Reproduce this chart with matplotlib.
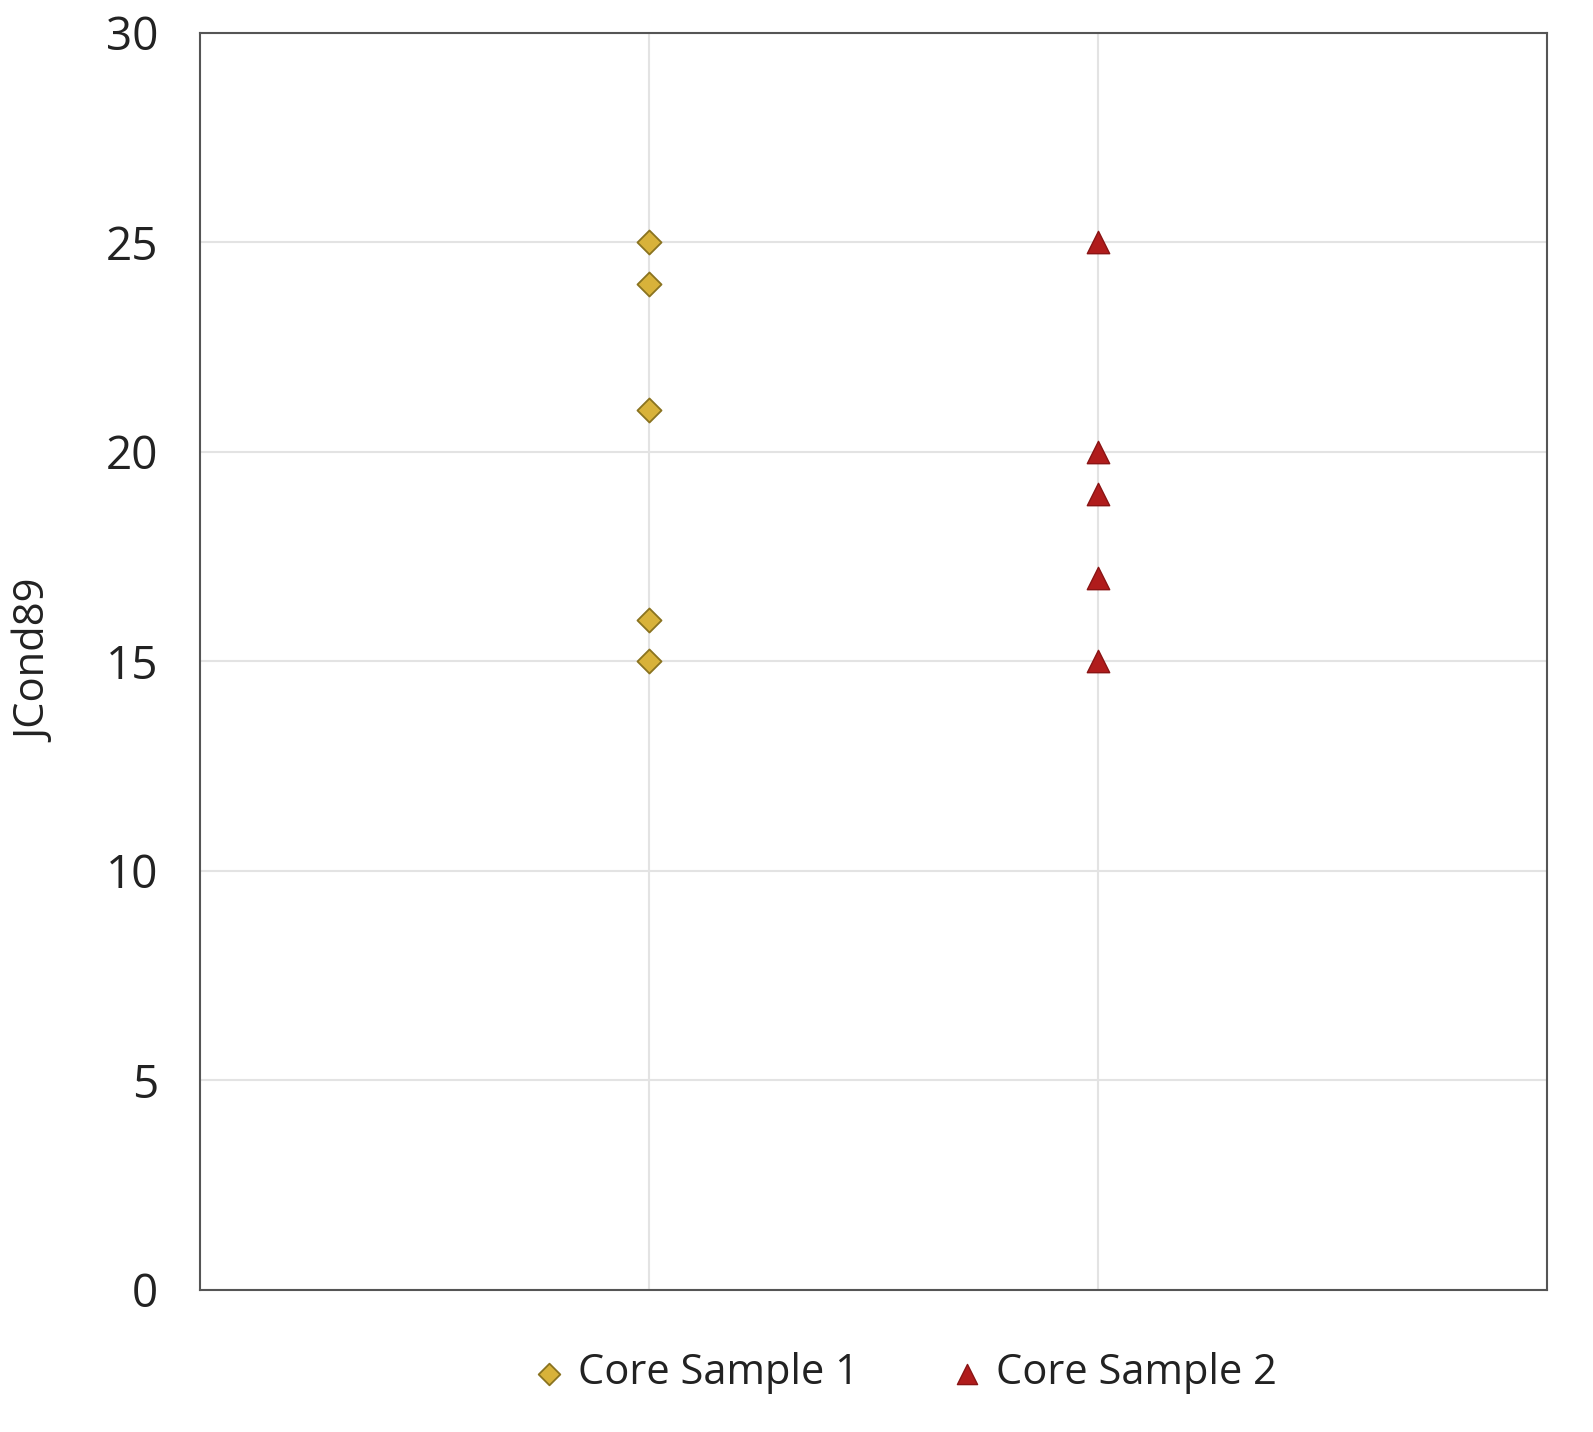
import matplotlib.pyplot as plt

# values
sample1_x = [1, 1, 1, 1, 1]
sample1_y = [25, 24, 21, 16, 15]
sample2_x = [2, 2, 2, 2, 2]
sample2_y = [25, 20, 19, 17, 15]
y_ticks = [0, 5, 10, 15, 20, 25, 30]

plt.rcParams['font.family'] = ['Open Sans', 'DejaVu Sans']

fig = plt.figure(figsize=(15.93, 14.32), dpi=100)
ax = fig.add_axes([0.1256, 0.0992, 0.8455, 0.8778])

# gridlines under the markers
ax.set_axisbelow(True)
ax.grid(True, color='#e3e3e3', linewidth=1.5)

ax.scatter(sample1_x, sample1_y, marker='D', s=150, color='#d8b23a',
           edgecolors='#8a7320', linewidths=1.3, label='Core Sample 1', zorder=3)
ax.scatter(sample2_x, sample2_y, marker='^', s=260, color='#b01c1c',
           edgecolors='#8a1414', linewidths=1, label='Core Sample 2', zorder=3)

ax.set_xlim(0, 3)
ax.set_ylim(0, 30)
ax.set_xticks([1, 2])
ax.set_xticklabels([])
ax.set_yticks(y_ticks)
ax.tick_params(axis='both', length=0, labelsize=33, colors='#222222', pad=30)

for side in ax.spines.values():
    side.set_color('#555555')
    side.set_linewidth(1.5)

ax.set_ylabel('JCond89', fontsize=30, color='#222222')
ax.yaxis.set_label_coords(-0.106, 0.5)

leg = fig.legend(loc='lower center', bbox_to_anchor=(0.56, 0.0), ncol=2, frameon=False,
                 fontsize=30, handletextpad=-0.3, columnspacing=1.6, markerscale=0.9)
for t in leg.get_texts():
    t.set_color('#222222')

fig.savefig('out.png', dpi=100)
